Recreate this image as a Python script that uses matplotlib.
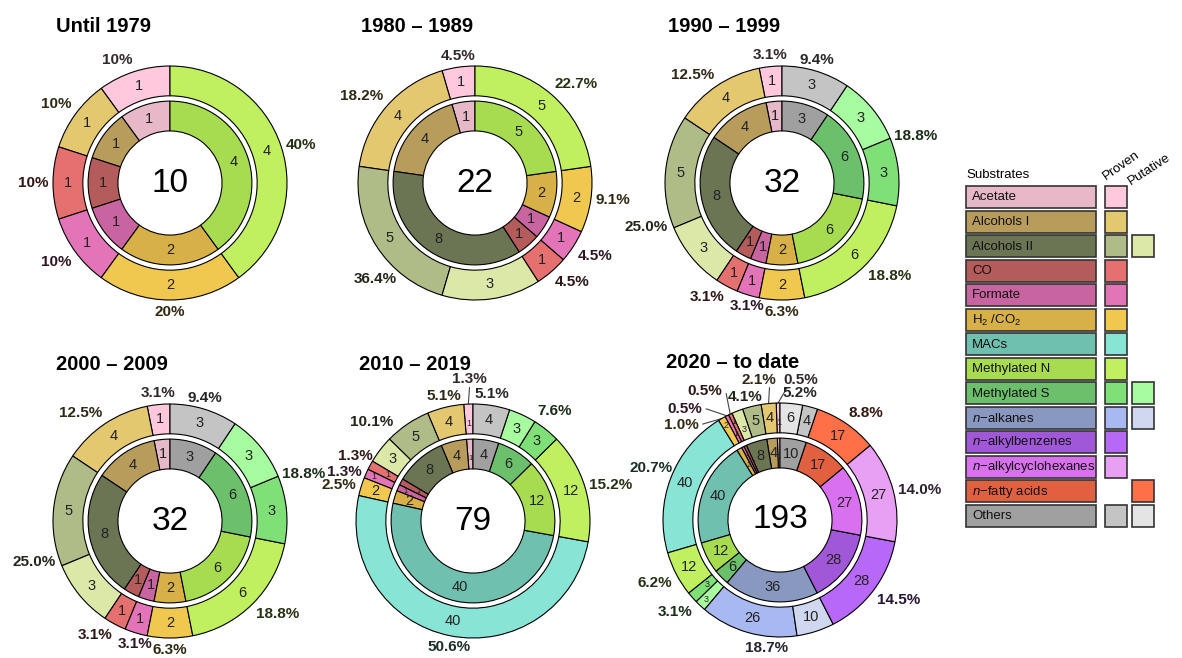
import matplotlib
matplotlib.use('Agg')
import matplotlib.pyplot as plt
import matplotlib.colors as mcolors
import numpy as np
from matplotlib.patches import Rectangle

plt.rcParams['font.family'] = 'Liberation Sans'
plt.rcParams['mathtext.fontset'] = 'custom'
plt.rcParams['mathtext.rm'] = 'Liberation Sans'
plt.rcParams['mathtext.it'] = 'Liberation Sans:italic'

# ---------------- data ----------------
categories = ['Acetate', 'Alcohols I', 'Alcohols II', 'CO', 'Formate', 'H2/CO2', 'MACs',
              'Methylated N', 'Methylated S', 'n-alkanes', 'n-alkylbenzenes',
              'n-alkylcyclohexanes', 'n-fatty acids', 'Others']
legend_labels = ['Acetate', 'Alcohols I', 'Alcohols II', 'CO', 'Formate', r'H$_2$ /CO$_2$', 'MACs',
                 'Methylated N', 'Methylated S', r'$\mathit{n}$$-$alkanes', r'$\mathit{n}$$-$alkylbenzenes',
                 r'$\mathit{n}$$-$alkylcyclohexanes', r'$\mathit{n}$$-$fatty acids', 'Others']

inner_colors = ['#e6b8c8', '#b89c5c', '#6b7553', '#b45c5c', '#c864a0', '#d8b048', '#70c0b0',
                '#a8dc50', '#6cc06c', '#8898c0', '#a058d8', '#d870f0', '#e06040', '#a0a0a0']
proven_colors = ['#ffc8dc', '#e4c870', '#b0bc88', '#e47070', '#e474b8', '#f0c850', '#88e4d4',
                 '#c0f060', '#80e078', '#a8b8f0', '#b868f8', '#e8a0f4', None, '#c4c4c4']
putative_colors = [None, None, '#dce8a8', None, None, None, None,
                   None, '#a8fca0', '#d0d8f0', None, None, '#ff7048', '#e4e4e4']

periods = ['Until 1979', '1980 – 1989', '1990 – 1999', '2000 – 2009', '2010 – 2019', '2020 – to date']

#                 Ac AlI AlII CO Fo H2 MAC MeN MeS nal nbz ncy nfa Oth
proven_1979    = [1, 1, 0, 1, 1, 2, 0, 4, 0, 0, 0, 0, 0, 0]
putative_1979  = [0, 0, 0, 0, 0, 0, 0, 0, 0, 0, 0, 0, 0, 0]
proven_1980s   = [1, 4, 5, 1, 1, 2, 0, 5, 0, 0, 0, 0, 0, 0]
putative_1980s = [0, 0, 3, 0, 0, 0, 0, 0, 0, 0, 0, 0, 0, 0]
proven_1990s   = [1, 4, 5, 1, 1, 2, 0, 6, 3, 0, 0, 0, 0, 3]
putative_1990s = [0, 0, 3, 0, 0, 0, 0, 0, 3, 0, 0, 0, 0, 0]
proven_2000s   = [1, 4, 5, 1, 1, 2, 0, 6, 3, 0, 0, 0, 0, 3]
putative_2000s = [0, 0, 3, 0, 0, 0, 0, 0, 3, 0, 0, 0, 0, 0]
proven_2010s   = [1, 4, 5, 1, 1, 2, 40, 12, 3, 0, 0, 0, 0, 4]
putative_2010s = [0, 0, 3, 0, 0, 0, 0, 0, 3, 0, 0, 0, 0, 0]
proven_2020s   = [1, 4, 5, 1, 1, 2, 40, 12, 3, 26, 28, 27, 0, 4]
putative_2020s = [0, 0, 3, 0, 0, 0, 0, 0, 3, 10, 0, 0, 17, 6]

proven_all = [proven_1979, proven_1980s, proven_1990s, proven_2000s, proven_2010s, proven_2020s]
putative_all = [putative_1979, putative_1980s, putative_1990s, putative_2000s, putative_2010s, putative_2020s]
pct_formats = ['{:.0f}%', '{:.1f}%', '{:.1f}%', '{:.1f}%', '{:.1f}%', '{:.1f}%']

# ---------------- layout ----------------
W, H = 1182, 658
R = 117  # outer radius in px
S = 1.45
centers = [(170, 183), (475, 183), (782, 183), (170, 521), (473, 521), (780, 520)]

# manual label positions (x, y, ha, va, leader end x, leader end y) in radius units
overrides = {
    1: {'Alcohols II': (-0.67, -0.76, 'right', 'top', None, None)},
    2: {'Alcohols II': (-0.98, -0.38, 'right', 'center', None, None)},
    3: {'Alcohols II': (-0.98, -0.35, 'right', 'center', None, None)},
    4: {'Acetate': (-0.03, 1.21, 'center', 'center', -0.03, 1.14),
        'CO': (-0.855, 0.555, 'right', 'center', None, None)},
    5: {'Acetate': (0.18, 1.20, 'center', 'center', 0.06, 1.13),
        'Alcohols I': (-0.18, 1.20, 'center', 'center', -0.09, 1.13),
        'CO': (-0.64, 1.10, 'center', 'center', -0.46, 1.08),
        'Formate': (-0.81, 0.95, 'center', 'center', -0.63, 0.95),
        'H2/CO2': (-0.84, 0.81, 'center', 'center', -0.66, 0.82),
        'MACs': (-0.915, 0.445, 'right', 'center', None, None)},
}


def dark(c, f=0.2):
    r, g, b = mcolors.to_rgb(c)
    return (r * f, g * f, b * f)


def ring_labels(ax, wedges, vals, r_mid, small_fs):
    # numbers inside a ring; thin neighbouring wedges get staggered radii
    prev_small = False
    flip = False
    for w, v in zip(wedges, vals):
        a = np.deg2rad((w.theta1 + w.theta2) / 2)
        span = w.theta2 - w.theta1
        r = r_mid
        if span > 7:
            fs = 10.5
            prev_small = False
        else:
            fs = small_fs
            if prev_small:
                flip = not flip
            else:
                flip = False
            r = r_mid + (0.055 if flip else -0.04)
            prev_small = True
        ax.text(r * np.cos(a), r * np.sin(a), str(v), ha='center', va='center',
                fontsize=fs, color='#222222')


def draw_donut(ax, idx):
    proven = proven_all[idx]
    putative = putative_all[idx]
    inner_vals, inner_cols, inner_idx = [], [], []
    outer_vals, outer_cols = [], []
    for i in range(len(categories)):
        n = proven[i] + putative[i]
        if n == 0:
            continue
        inner_vals.append(n)
        inner_cols.append(inner_colors[i])
        inner_idx.append(i)
        if proven[i]:
            outer_vals.append(proven[i])
            outer_cols.append(proven_colors[i])
        if putative[i]:
            outer_vals.append(putative[i])
            outer_cols.append(putative_colors[i])
    total = sum(inner_vals)

    wp = dict(width=0.255, edgecolor='black', linewidth=0.8)
    ow, _ = ax.pie(outer_vals, radius=1.0, colors=outer_cols, startangle=90,
                   counterclock=True, wedgeprops=wp)
    iw, _ = ax.pie(inner_vals, radius=0.70, colors=inner_cols, startangle=90,
                   counterclock=True, wedgeprops=wp)

    ring_labels(ax, ow, outer_vals, 0.8725, 6.5)
    ring_labels(ax, iw, inner_vals, 0.5725, 5.5)

    ov = overrides.get(idx, {})
    for w, v, i in zip(iw, inner_vals, inner_idx):
        a = np.deg2rad((w.theta1 + w.theta2) / 2)
        base = proven_colors[i] or putative_colors[i]
        # round half up, as in the reference (2/32 -> 6.3%)
        label = pct_formats[idx].format(100 * v / total + 1e-9)
        cat = categories[i]
        if cat in ov:
            x, y, ha, va, lx, ly = ov[cat]
            if lx is not None:
                ax.plot([np.cos(a), lx], [np.sin(a), ly], color='#444444', lw=0.8,
                        clip_on=False, zorder=0)
        else:
            c, s = np.cos(a), np.sin(a)
            x, y = 1.04 * c, 1.04 * s
            ha = 'left' if c > 0.3 else ('right' if c < -0.3 else 'center')
            va = 'bottom' if s > 0.45 else ('top' if s < -0.45 else 'center')
        ax.text(x, y, label, ha=ha, va=va, fontsize=11, fontweight='bold',
                color=dark(base))

    ax.text(0, 0, str(total), ha='center', va='center', fontsize=24, color='black')
    ax.set_xlim(-S, S)
    ax.set_ylim(-S, S)
    ax.set_aspect('equal')
    ax.axis('off')


fig = plt.figure(figsize=(W / 100, H / 100), dpi=100)

# legend in pixel coordinates
axl = fig.add_axes([0, 0, 1, 1])
axl.set_xlim(0, W)
axl.set_ylim(H, 0)
axl.axis('off')

for k, (cx, cy) in enumerate(centers):
    ax = fig.add_axes([(cx - S * R) / W, (H - cy - S * R) / H, 2 * S * R / W, 2 * S * R / H])
    draw_donut(ax, k)
    fig.text((cx - 114) / W, 1 - (cy - 157) / H, periods[k], fontsize=14.5,
             fontweight='bold', ha='left', va='center')

axl.text(966, 175, 'Substrates', fontsize=9.5, ha='left', va='center')
axl.text(1106, 180, 'Proven', fontsize=9.5, rotation=35, rotation_mode='anchor',
         ha='left', va='baseline')
axl.text(1131, 185, 'Putative', fontsize=9.5, rotation=33, rotation_mode='anchor',
         ha='left', va='baseline')
for i, lab in enumerate(legend_labels):
    y = 186 + i * 24.5
    axl.add_patch(Rectangle((966, y), 130, 22, facecolor=inner_colors[i],
                            edgecolor='#333333', lw=1.2))
    axl.text(972, y + 11.5, lab, fontsize=9.5, ha='left', va='center', color='#111111')
    if proven_colors[i]:
        axl.add_patch(Rectangle((1105, y), 22, 22, facecolor=proven_colors[i],
                                edgecolor='#333333', lw=1.2))
    if putative_colors[i]:
        axl.add_patch(Rectangle((1132, y), 22, 22, facecolor=putative_colors[i],
                                edgecolor='#333333', lw=1.2))

fig.savefig('out.png', dpi=100)
